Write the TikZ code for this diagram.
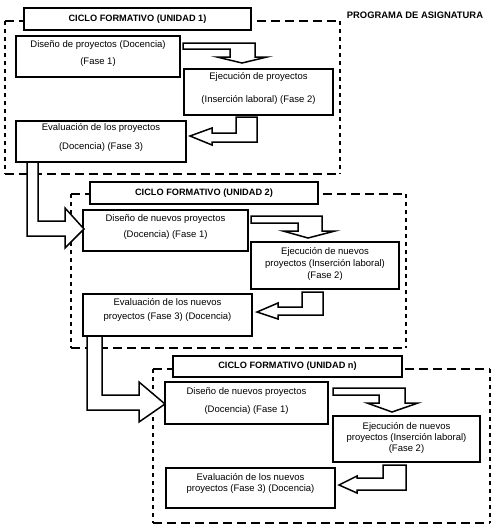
\documentclass[tikz,border=0pt]{standalone}
\usepackage{fontspec}
\setmainfont{Liberation Sans}
\begin{document}
\begin{tikzpicture}[x=1pt,y=-1pt,
  every node/.style={inner sep=0pt,outer sep=0pt},
  boxnode/.style={draw,line width=1.6pt,fill=white,rectangle},
  framenode/.style={rectangle},
  hdash/.style={line width=1.4pt,dash pattern=on 9pt off 5pt},
  vdash/.style={line width=1.4pt,dash pattern=on 4pt off 4pt},
  titlebox/.style={draw,line width=1.6pt,fill=white,rectangle,font=\fontsize{9.2}{11}\selectfont\bfseries},
  txt/.style={align=center,font=\fontsize{9.5}{11.4}\selectfont},
  blockarrow/.style={draw,line width=1.5pt,fill=white,line join=miter}]
\useasboundingbox (0,0) rectangle (496,528);
\fill[white] (0,0) rectangle (496,528);
% dashed frames
\node[framenode,minimum width=335pt,minimum height=153pt] (f1) at (172.5,97.5) {};
\node[framenode,minimum width=335pt,minimum height=154pt] (f2) at (238.5,271) {};
\node[framenode,minimum width=337pt,minimum height=154pt] (f3) at (321.5,446) {};
\foreach \f in {f1,f2,f3}{
  \draw[hdash] (\f.north west) -- (\f.north east);
  \draw[hdash] (\f.south west) -- (\f.south east);
  \draw[vdash] (\f.north west) -- (\f.south west);
  \draw[vdash] (\f.north east) -- (\f.south east);
}
% titles
\node[titlebox,minimum width=227pt,minimum height=22pt] (t1) at (137.5,19) {CICLO FORMATIVO (UNIDAD 1)};
\node[titlebox,minimum width=228pt,minimum height=22pt] (t2) at (204,193) {CICLO FORMATIVO (UNIDAD 2)};
\node[titlebox,minimum width=229pt,minimum height=21pt] (t3) at (287.5,366.5) {CICLO FORMATIVO (UNIDAD n)};
\node[font=\fontsize{9.4}{11}\selectfont\bfseries] (prog) at (415,15) {PROGRAMA DE ASIGNATURA};
% section 1 boxes
\node[boxnode,minimum width=164pt,minimum height=41pt] (a1) at (98,56.5) {};
\node[boxnode,minimum width=149pt,minimum height=46pt] (b1) at (258.5,92) {};
\node[boxnode,minimum width=170pt,minimum height=41pt] (c1) at (101,141.5) {};
\node[txt] (a1t) at (98,53.5) {Diseño de proyectos (Docencia)\\[5.6pt](Fase 1)};
\node[txt] (b1t) at (258.5,88.5) {Ejecución de proyectos\\[11.6pt](Inserción laboral) (Fase 2)};
\node[txt] (c1t) at (101,137.5) {Evaluación de los proyectos\\[7.6pt](Docencia) (Fase 3)};
% section 2 boxes
\node[boxnode,minimum width=165pt,minimum height=41pt] (a2) at (165.5,230.5) {};
\node[boxnode,minimum width=148pt,minimum height=47pt] (b2) at (325,265.5) {};
\node[boxnode,minimum width=169pt,minimum height=42pt] (c2) at (167.5,315) {};
\node[txt] (a2t) at (165.5,227) {Diseño de nuevos proyectos\\[4.6pt](Docencia) (Fase 1)};
\node[txt] (b2t) at (325,264) {Ejecución de nuevos\\[0.6pt]proyectos (Inserción laboral)\\[0.6pt](Fase 2)};
\node[txt] (c2t) at (167.5,310) {Evaluación de los nuevos\\[2.6pt]proyectos (Fase 3) (Docencia)};
% section 3 boxes
\node[boxnode,minimum width=163pt,minimum height=42pt] (a3) at (246.5,403) {};
\node[boxnode,minimum width=147pt,minimum height=46pt] (b3) at (406.5,439) {};
\node[boxnode,minimum width=169pt,minimum height=40pt] (c3) at (250.5,488) {};
\node[txt] (a3t) at (246.5,401) {Diseño de nuevos proyectos\\[6.6pt](Docencia) (Fase 1)};
\node[txt] (b3t) at (406.5,438) {Ejecución de nuevos\\[-0.4pt]proyectos (Inserción laboral)\\[-0.4pt](Fase 2)};
\node[txt] (c3t) at (250.5,483.5) {Evaluación de los nuevos\\[-1pt]proyectos (Fase 3) (Docencia)};
% block arrows
\draw[blockarrow] ([xshift=3pt,yshift=-7pt]a1.north east) -- ++(72,0) -- ++(0,14) -- ++(12,0) -- ++(-25,6) -- ++(-25,-6) -- ++(13,0) -- ++(0,-8) -- ++(-47,0) -- cycle;
\draw[blockarrow] ([xshift=-22.5pt,yshift=-2pt]b1.south) -- ++(21,0) -- ++(0,25) -- ++(-45,0) -- ++(0,3) -- ++(-22,-9) -- ++(22,-8) -- ++(0,5) -- ++(24,0) -- cycle;
\draw[blockarrow] ([xshift=11pt]c1.south west) -- ++(11,0) -- ++(0,59) -- ++(27,0) -- ++(0,-13) -- ++(19,21) -- ++(-19,19) -- ++(0,-12) -- ++(-38,0) -- cycle;
\draw[blockarrow] ([xshift=3pt,yshift=-6pt]a2.north east) -- ++(71,0) -- ++(0,15) -- ++(13,0) -- ++(-27,7) -- ++(-25,-7) -- ++(15,0) -- ++(0,-8) -- ++(-47,0) -- cycle;
\draw[blockarrow] ([xshift=-23pt,yshift=-3pt]b2.south) -- ++(21,0) -- ++(0,23) -- ++(-45,0) -- ++(0,4) -- ++(-21,-7) -- ++(21,-9) -- ++(0,4) -- ++(24,0) -- cycle;
\draw[blockarrow] ([xshift=4pt]c2.south west) -- ++(15,0) -- ++(0,59) -- ++(37,0) -- ++(0,-13) -- ++(26,22) -- ++(-26,18) -- ++(0,-12) -- ++(-52,0) -- cycle;
\draw[blockarrow] ([xshift=5pt,yshift=-6pt]a3.north east) -- ++(72,0) -- ++(0,15) -- ++(13,0) -- ++(-26,9) -- ++(-25,-9) -- ++(12,0) -- ++(0,-8) -- ++(-46,0) -- cycle;
\draw[blockarrow] ([xshift=-23.5pt,yshift=-3pt]b3.south) -- ++(23,0) -- ++(0,25) -- ++(-49,0) -- ++(0,3) -- ++(-18,-8) -- ++(18,-9) -- ++(0,2) -- ++(26,0) -- cycle;
\end{tikzpicture}
\end{document}
